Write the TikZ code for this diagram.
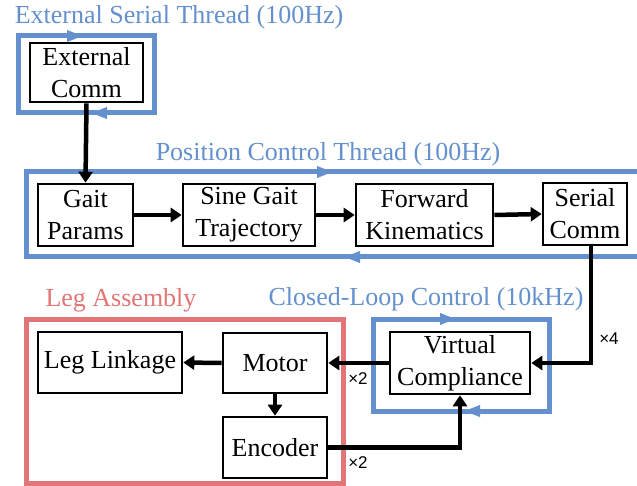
\documentclass[tikz,border=0pt]{standalone}
\usepackage{fontspec}
\setmainfont{Liberation Serif}
\newfontfamily\labfont{Liberation Sans}
\usetikzlibrary{arrows.meta,decorations.markings}
\definecolor{loopblue}{RGB}{100,145,205}
\definecolor{legred}{RGB}{226,118,118}
\tikzset{
  blk/.style={draw=black, line width=2.6pt, fill=white, align=center, inner sep=0pt,
    font=\fontsize{26}{32}\selectfont},
  flow/.style={line width=4.5pt, -{Triangle[length=11pt,width=14pt]}},
  blueloop/.style={draw=loopblue, line width=5pt},
  redbox/.style={draw=legred, line width=5pt},
  ttl/.style={font=\fontsize{26}{30}\selectfont, inner sep=0pt},
  mult/.style={font=\labfont\fontsize{17}{20}\selectfont, inner sep=0pt},
  bluetip/.style={decorate, decoration={markings,
     mark=at position #1 with {\arrow[loopblue]{Triangle[length=15pt,width=12pt]}}}}
}
\begin{document}
\begin{tikzpicture}[x=1pt,y=-1pt]
\useasboundingbox (0,0) rectangle (637,486);
\fill[white] (0,0) rectangle (637,486);

% loops / groups
\draw[blueloop] (18,36) rectangle (154,113);
\path[bluetip=64pt] (18,36) -- (154,36);
\path[bluetip=62pt] (154,113) -- (18,113);
\node[ttl, text=loopblue] (t1) at (179,17) {External Serial Thread (100Hz)};

\draw[blueloop] (645,172) -- (26,172) -- (26,257) -- (645,257);
\path[bluetip=306pt] (26,172) -- (645,172);
\path[bluetip=300pt] (645,257) -- (26,257);
\node[ttl, text=loopblue] (t2) at (328,154) {Position Control Thread (100Hz)};

\draw[blueloop] (373,319) rectangle (549,411);
\path[bluetip=82pt] (373,319) -- (549,319);
\path[bluetip=84pt] (549,411) -- (373,411);
\node[ttl, text=loopblue] (t3) at (426,299) {Closed-Loop Control (10kHz)};

\draw[redbox] (26,319) rectangle (343,483);
\node[ttl, text=legred] (t4) at (121,300) {Leg Assembly};

% blocks
\node[blk, minimum width=113pt, minimum height=59pt] (EC) at (86.5,72.5) {External\\Comm};
\node[blk, minimum width=95pt, minimum height=62pt] (GP) at (85.5,215) {Gait\\Params};
\node[blk, minimum width=132pt, minimum height=62pt] (SG) at (249,215) {Sine Gait\\Trajectory};
\node[blk, minimum width=137pt, minimum height=62pt] (FK) at (424.5,215) {Forward\\Kinematics};
\node[blk, minimum width=84pt, minimum height=62pt] (SC) at (585,214) {Serial\\Comm};
\node[blk, minimum width=144pt, minimum height=61pt] (LL) at (110,362.5) {Leg Linkage};
\node[blk, minimum width=104pt, minimum height=60pt] (MO) at (275,363) {Motor};
\node[blk, minimum width=104pt, minimum height=61pt] (EN) at (275,447.5) {Encoder};
\node[blk, minimum width=140pt, minimum height=62pt] (VC) at (460,363) {Virtual\\Compliance};

% connectors
\draw[flow] (EC.south) -- (GP.north);
\draw[flow] (GP.east) -- (SG.west);
\draw[flow] (SG.east) -- (FK.west);
\draw[flow] (FK.east) -- (SC.west);
\draw[flow] ([xshift=6pt]SC.south) |- (VC.east);
\draw[flow] (VC.west) -- (MO.east);
\draw[flow] (MO.west) -- (LL.east);
\draw[flow] (MO.south) -- (EN.north);
\draw[flow] (EN.east) -| (VC.south);

% multiplicities
\node[mult] (m4) at (609,339) {×4};
\node[mult] (m2a) at (358,379) {×2};
\node[mult] (m2b) at (358,463) {×2};
\end{tikzpicture}
\end{document}
